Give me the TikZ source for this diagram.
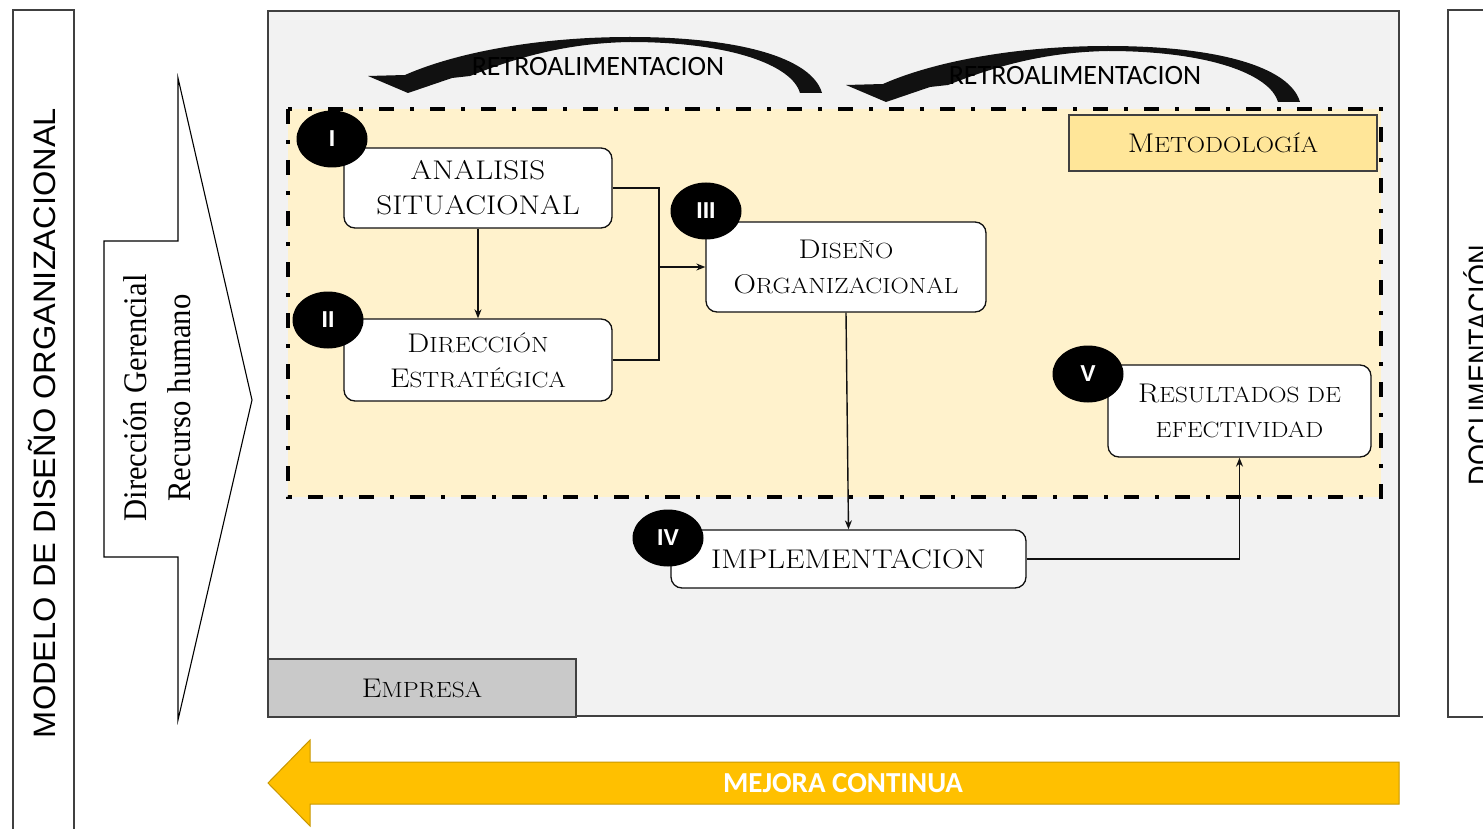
\documentclass[tikz,border=0pt]{standalone}
\usepackage{fontspec}
\usepackage{graphicx}
\usetikzlibrary{arrows.meta,shapes.geometric}

\newfontfamily\calib{Carlito}
\newfontfamily\arialf{Liberation Sans}
\newfontfamily\timesf{Liberation Serif}

\definecolor{panelgray}{HTML}{F2F2F2}
\definecolor{panelline}{HTML}{404040}
\definecolor{methfill}{HTML}{FFF2CC}
\definecolor{methtag}{HTML}{FFE699}
\definecolor{empfill}{HTML}{C9C9C9}
\definecolor{gold}{HTML}{FFC000}
\definecolor{golddark}{HTML}{C99700}
\definecolor{inkblack}{HTML}{111111}

% fake small capitals and a wider setting for the step labels
\newcommand\smc[1]{{\fontsize{22}{35}\selectfont #1}}
\newcommand\wide[1]{\scalebox{1.15}[1]{#1}}

\tikzset{
  stepbox/.style={draw=inkblack, line width=1.3, fill=white, rounded corners=11,
    align=center, inner sep=0, font=\fontsize{27}{35}\selectfont},
  badge/.style={ellipse, fill=black, minimum width=71, minimum height=57, inner sep=0,
    text=white, font=\arialf\bfseries\fontsize{23}{23}\selectfont},
  tagbox/.style={draw=panelline, line width=1.3, inner sep=0,
    font=\fontsize{27}{35}\selectfont},
  link/.style={line width=1.4, draw=inkblack, -{Stealth[length=9pt,width=7pt]}},
  plainlink/.style={line width=1.4, draw=inkblack},
  retro/.pic={
    \fill[inkblack] (368,76) -- (408,93) -- (452,78) -- (470,76)
      .. controls (520,56) and (570,43) .. (630,42)
      .. controls (730,42) and (792,65) .. (800,93)
      -- (822,93)
      .. controls (812,58) and (740,37) .. (630,37)
      .. controls (530,37) and (450,55) .. (405,75) -- cycle;
  }
}

\begin{document}
\begin{tikzpicture}[x=1pt, y=-1pt]
\useasboundingbox (0,0) rectangle (1483,829);
\clip (0,0) rectangle (1483,829);
\fill[white] (0,0) rectangle (1483,829);

% side frames
\draw[line width=1.3, draw=panelline] (13,10) rectangle (74,845);
\node[rotate=90, anchor=base] (model) at (55,423)
  {\resizebox{630pt}{\height}{\arialf\fontsize{31}{31}\selectfont MODELO DE DISEÑO ORGANIZACIONAL}};

\draw[line width=1.3, draw=panelline] (1448,10) rectangle (1510,717);
\node[rotate=90, anchor=base] (docu) at (1490,365)
  {\resizebox{240pt}{\height}{\arialf\fontsize{31}{31}\selectfont DOCUMENTACIÓN}};

% input arrow
\draw[line width=1.1, fill=white] (104,241) -- (178,241) -- (178,78) -- (252,400)
  -- (178,720) -- (178,557) -- (104,557) -- cycle;
\node[rotate=90, anchor=base] (gerencia) at (146,398)
  {\resizebox{247pt}{\height}{\timesf\fontsize{33}{33}\selectfont Dirección Gerencial}};
\node[rotate=90, anchor=base] (rrhh) at (190,398)
  {\resizebox{207pt}{\height}{\timesf\fontsize{33}{33}\selectfont Recurso humano}};

% company panel
\draw[line width=1.3, draw=panelline, fill=panelgray] (268,11) rectangle (1399,716);
\node[tagbox, fill=empfill, minimum width=308, minimum height=58] (empresa) at (422,688)
  {\wide{E\smc{MPRESA}}};

% methodology area
\fill[methfill] (288,109) rectangle (1381,497);
\draw[line width=4, dash pattern=on 15 off 16 on 4 off 16] (288,109) rectangle (1381,497);
\node[tagbox, fill=methtag, minimum width=308, minimum height=56] (metodo) at (1223,143)
  {\wide{M\smc{ETODOLOGÍA}}};

% feedback arrows
\pic at (0,0) {retro};
\pic at (478,9) {retro};
\node[font=\calib\fontsize{28}{28}\selectfont] (retroA) at (598,67) {RETROALIMENTACION};
\node[font=\calib\fontsize{28}{28}\selectfont] (retroB) at (1075,76) {RETROALIMENTACION};

% steps
\node[stepbox, minimum width=268, minimum height=80] (analisis) at (478,188)
  {\wide{ANALISIS}\\\wide{SITUACIONAL}};
\node[stepbox, minimum width=268, minimum height=82] (direccion) at (478,360)
  {\wide{D\smc{IRECCIÓN}}\\\wide{E\smc{STRATÉGICA}}};
\node[stepbox, minimum width=280, minimum height=90] (diseno) at (846,267)
  {\wide{D\smc{ISEÑO}}\\\wide{O\smc{RGANIZACIONAL}}};
\node[stepbox, minimum width=355, minimum height=58] (implem) at (848.5,559)
  {\wide{IMPLEMENTACION}};
\node[stepbox, minimum width=263, minimum height=92] (result) at (1239.5,411)
  {\wide{R\smc{ESULTADOS DE}}\\\wide{\smc{EFECTIVIDAD}}};

% connectors
\coordinate (join) at (659,267);
\draw[link] (analisis.south) -- (direccion.north);
\draw[plainlink] (analisis.east) -| (join);
\draw[plainlink] (direccion.east) -| (join);
\draw[link] (join) -- (diseno.west);
\draw[link] (diseno.south) -- (implem.north);
\draw[link] (implem.east) -| (result.south);

% step numbers
\node[badge] (nI) at (332,139) {I};
\node[badge] (nII) at (328,320) {II};
\node[badge] (nIII) at (706,211) {III};
\node[badge] (nIV) at (668,538) {IV};
\node[badge] (nV) at (1088,374) {V};

% continuous improvement arrow
\draw[line width=1, draw=golddark, fill=gold] (1399,762) -- (310,762) -- (310,740)
  -- (268,783) -- (310,826) -- (310,804) -- (1399,804) -- cycle;
\node[text=white, font=\calib\bfseries\fontsize{29}{29}\selectfont] (mejora) at (843,783)
  {MEJORA CONTINUA};
\end{tikzpicture}
\end{document}
